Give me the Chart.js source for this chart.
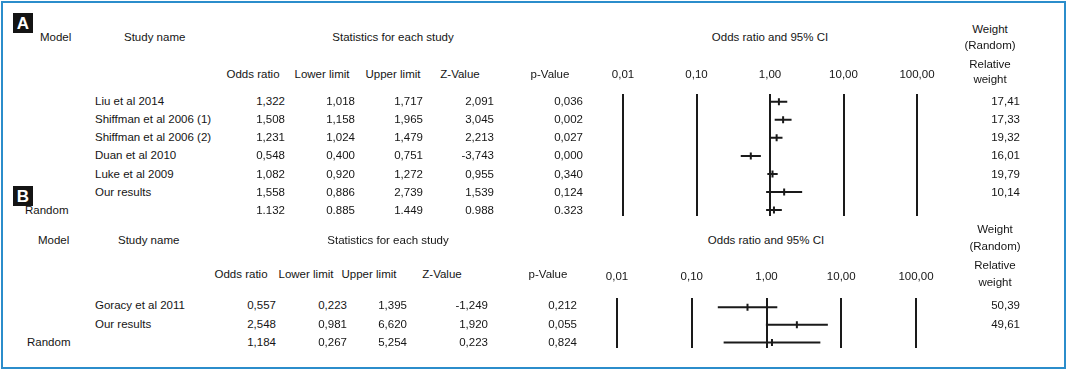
<!DOCTYPE html>
<html lang="en">
<head>
<meta charset="UTF-8">
<title>Forest plot</title>
<script src="https://cdn.jsdelivr.net/npm/chart.js"></script>
<style>
  body { margin: 0; background: #fff; }
  #quadro { position: relative; width: 1067px; height: 371px; overflow: hidden;
            font-family: "Liberation Sans", Arial, sans-serif; font-size: 11.5px; color: #151515; }
  #moldura { position: absolute; left: 1px; top: 1px; width: 1061px; height: 364px; border: 2px solid #2b8dcb; }
  .t { position: absolute; white-space: nowrap; line-height: 14px; transform: translateY(-50%); }
  .c { transform: translate(-50%, -50%); text-align: center; }
  .r { transform: translate(-100%, -50%); }
  .letra { position: absolute; width: 20px; height: 20px; background: #141414; color: #fff;
           font: bold 17px "Liberation Sans", Arial, sans-serif; text-align: center; line-height: 21px; }
  .grafico { position: absolute; }
</style>
</head>
<body>
<div id="quadro">
  <div id="moldura"></div>
  <div class="letra" style="left:13px; top:13px;">A</div>
  <div class="letra" style="left:13px; top:186px;">B</div>
  <div class="grafico" style="left:560px; top:50px; width:420px; height:176px;"><canvas id="chartA"></canvas></div>
  <div class="grafico" style="left:555px; top:250px; width:420px; height:110px;"><canvas id="chartB"></canvas></div>
</div>

<script>
// ---- dados ----
const tickValues = [0.01, 0.1, 1, 10, 100];
const tickLabels = ['0,01', '0,10', '1,00', '10,00', '100,00'];
const colHeaders = ['Odds ratio', 'Lower limit', 'Upper limit', 'Z-Value', 'p-Value'];

// painel A
const studiesA = ['Liu et al 2014', 'Shiffman et al 2006 (1)', 'Shiffman et al 2006 (2)', 'Duan et al 2010', 'Luke et al 2009', 'Our results', ''];
const oddsA  = [1.322, 1.508, 1.231, 0.548, 1.082, 1.558, 1.132];
const lowerA = [1.018, 1.158, 1.024, 0.400, 0.920, 0.886, 0.885];
const upperA = [1.717, 1.965, 1.479, 0.751, 1.272, 2.739, 1.449];
const zA     = [2.091, 3.045, 2.213, -3.743, 0.955, 1.539, 0.988];
const pA     = [0.036, 0.002, 0.027, 0.000, 0.340, 0.124, 0.323];
const weightA = [17.41, 17.33, 19.32, 16.01, 19.79, 10.14, null];
const sepA   = [',', ',', ',', ',', ',', ',', '.'];

// painel B
const studiesB = ['Goracy et al 2011', 'Our results', ''];
const oddsB  = [0.557, 2.548, 1.184];
const lowerB = [0.223, 0.981, 0.267];
const upperB = [1.395, 6.620, 5.254];
const zB     = [-1.249, 1.920, 0.223];
const pB     = [0.212, 0.055, 0.824];
const weightB = [50.39, 49.61, null];
const sepB   = [',', ',', ','];

// ---- texto ----
const quadro = document.getElementById('quadro');
function txt(s, x, y, cls) {
  const d = document.createElement('div');
  d.className = 't ' + (cls || '');
  d.style.left = x + 'px';
  d.style.top = y + 'px';
  d.innerHTML = s;
  quadro.appendChild(d);
}
function fmt(v, n, sep) { return v.toFixed(n).replace('.', sep); }

function painel(p) {
  txt('Model', p.modelX, p.titleY);
  txt('Study name', p.studyX, p.titleY);
  txt('Statistics for each study', p.statX, p.titleY, 'c');
  txt('Odds ratio and 95% CI', p.ciX, p.titleY, 'c');
  txt('Weight', p.wX, p.wY1, 'c');
  txt('(Random)', p.wX, p.wY2, 'c');
  txt('Relative', p.wX, p.rY1, 'c');
  txt('weight', p.wX, p.rY2, 'c');
  colHeaders.forEach((h, i) => txt(h, p.headX[i], p.headY, 'c'));
  p.studies.forEach((s, i) => {
    const y = p.row0 + i * p.rowH;
    if (s) txt(s, 95, y);
    else txt('Random', p.randX, y);
    const vals = [fmt(p.odds[i], 3, p.sep[i]), fmt(p.lower[i], 3, p.sep[i]), fmt(p.upper[i], 3, p.sep[i]),
                  fmt(p.z[i], 3, p.sep[i]), fmt(p.p[i], 3, p.sep[i])];
    vals.forEach((v, j) => txt(v, p.rightX[j], y, 'r'));
    if (p.weight[i] !== null) txt(fmt(p.weight[i], 2, ','), 1020, y, 'r');
  });
}

painel({
  modelX: 40, studyX: 124, statX: 393, ciX: 770, titleY: 37,
  wX: 990, wY1: 29, wY2: 45, rY1: 64, rY2: 79,
  headX: [253, 322, 393, 460, 550], headY: 74,
  rightX: [285, 355, 423, 494, 583],
  row0: 101, rowH: 18.15, randX: 25,
  studies: studiesA, odds: oddsA, lower: lowerA, upper: upperA, z: zA, p: pA, weight: weightA, sep: sepA
});
painel({
  modelX: 38, studyX: 118, statX: 388, ciX: 766, titleY: 240,
  wX: 995, wY1: 229, wY2: 246, rY1: 265, rY2: 282,
  headX: [241, 306, 369, 442, 548], headY: 274,
  rightX: [276, 347, 407, 488, 577],
  row0: 305, rowH: 18.5, randX: 27,
  studies: studiesB, odds: oddsB, lower: lowerB, upper: upperB, z: zB, p: pB, weight: weightB, sep: sepB
});

// ---- graficos ----
function forest(id, odds, lower, upper, yMin, yMax, pad, tickPad) {
  const linhas = [];
  const pontos = [];
  for (let i = 0; i < odds.length; i++) {
    linhas.push({x: lower[i], y: i}, {x: upper[i], y: i}, {x: null, y: null});
    pontos.push({x: odds[i], y: i});
  }
  return new Chart(document.getElementById(id), {
    type: 'line',
    data: {
      datasets: [{
        data: linhas,
        borderColor: '#1a1a1a',
        borderWidth: 2,
        pointRadius: 0,
        spanGaps: false
      }, {
        type: 'scatter',
        data: pontos,
        pointStyle: 'line',
        rotation: 90,
        radius: 3.5,
        borderColor: '#1a1a1a',
        borderWidth: 2
      }]
    },
    options: {
      responsive: true,
      maintainAspectRatio: false,
      animation: false,
      layout: { padding: pad },
      plugins: { legend: { display: false }, tooltip: { enabled: false } },
      scales: {
        x: {
          type: 'logarithmic',
          position: 'top',
          min: 0.01,
          max: 100,
          afterBuildTicks: axis => { axis.ticks = tickValues.map(v => ({ value: v })); },
          ticks: {
            autoSkip: false,
            maxRotation: 0,
            padding: tickPad,
            color: '#151515',
            font: { family: '"Liberation Sans", Arial, sans-serif', size: 11.5 },
            callback: (v, i) => tickLabels[i]
          },
          grid: { color: '#1a1a1a', lineWidth: 2, drawTicks: false },
          border: { display: false }
        },
        y: {
          type: 'linear',
          reverse: true,
          min: yMin,
          max: yMax,
          display: false
        }
      }
    }
  });
}

forest('chartA', oddsA, lowerA, upperA, -0.44, 6.33, { left: 63, right: 63, top: 6, bottom: 10 }, 12);
forest('chartB', oddsB, lowerB, upperB, -0.54, 2.32, { left: 62, right: 59, top: 6, bottom: 12 }, 14);
</script>
</body>
</html>
